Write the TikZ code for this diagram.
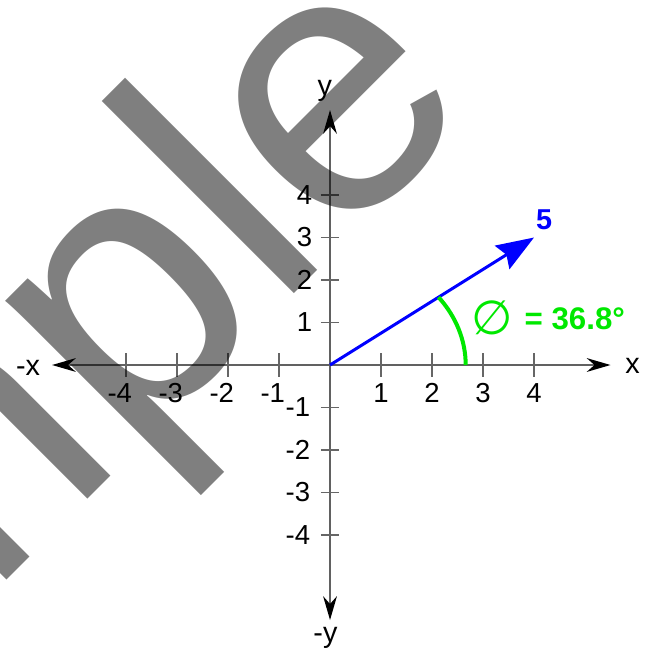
\documentclass[tikz,border=0pt]{standalone}
\usepackage{fontspec}
\setmainfont{Liberation Sans}
\newfontfamily\symbfont{DejaVu Sans}
\usepackage{tikz}
\usetikzlibrary{arrows.meta, positioning}
\definecolor{verde}{RGB}{0,232,0}

\begin{document}
\begin{tikzpicture}[x=20.4pt, y=17pt,
        axisline/.style={draw=black!62, line width=0.8pt, {Stealth[length=9.5pt, width=5.5pt, color=black]}-{Stealth[length=9.5pt, width=5.5pt, color=black]}},
        tickmark/.style={draw=black!60, line width=0.6pt},
        ticklabel/.style={inner sep=0pt, font=\fontsize{11}{13}\selectfont},
        axislabel/.style={inner sep=0pt, font=\fontsize{11.5}{13}\selectfont},
        vec/.style={draw=blue, line width=1.2pt, -{Stealth[length=15pt, width=11pt, inset=2pt]}},
        anglearc/.style={draw=verde, line width=1.6pt},
        anglelabel/.style={inner sep=0pt, text=verde, font=\fontsize{12.5}{14}\bfseries},
        watermark/.style={inner sep=0pt, text=black, text opacity=0.5, font=\fontsize{150}{150}\selectfont}]

        % Marco de la figura
        \useasboundingbox (-6.471,-6.729) rectangle (6.275,8.588);
        \fill[white] (-6.471,-6.729) rectangle (6.275,8.588);
        \clip (-6.471,-6.729) rectangle (6.275,8.588);

        % Ejes
        \coordinate (O) at (0,0);
        \coordinate (xneg) at (-5.45,0);
        \coordinate (xpos) at (5.5,0);
        \coordinate (yneg) at (0,-6);
        \coordinate (ypos) at (0,6);
        \draw[axisline] (xneg) -- (xpos);
        \draw[axisline] (yneg) -- (ypos);

        % Marcas y numeros
        \foreach \i in {1,...,4} {
            \draw[tickmark] (\i,-0.28) -- (\i,0.28);
            \draw[tickmark] (-\i,-0.28) -- (-\i,0.28);
            \draw[tickmark] (-0.18,\i) -- (0.18,\i);
            \draw[tickmark] (-0.18,-\i) -- (0.18,-\i);
            \node[ticklabel, anchor=north] (xl\i) at (\i,-0.42) {\i};
            \node[ticklabel, anchor=north east] (xm\i) at ([xshift=2.6pt]-\i,-0.42) {-\i};
            \node[ticklabel, anchor=east] (yl\i) at (-0.34,\i) {\i};
            \node[ticklabel, anchor=east] (ym\i) at (-0.38,-\i) {-\i};
        }

        % Nombres de los ejes
        \node[axislabel] (xlab) at (5.93,-0.01) {x};
        \node[axislabel] (xneglab) at (-5.92,-0.06) {-x};
        \node[axislabel] (ylab) at (-0.1,6.45) {y};
        \node[axislabel] (yneglab) at (-0.09,-6.41) {-y};

        % Vector y angulo
        \coordinate (P) at (4,3);
        \draw[vec] (O) -- (P);
        \node[inner sep=0pt, text=blue, font=\fontsize{11.5}{13}\bfseries] (mag) at (4.2,3.41) {5};
        \coordinate (A) at (2.66,0);
        \draw[anglearc] (A) arc[start angle=0, end angle=36.87, radius=2.66];
        \node[inner sep=0pt, text=verde, font=\symbfont\fontsize{19}{20}\selectfont] (phi) at (3.176,1.118) {∅};
        \node[anglelabel] (val) at (4.8,1.08) {= 36.8°};

        % Marca de agua
        \node[watermark, anchor=base east, rotate=45] (sample) at (3.0,6.13) {Sample};

    \end{tikzpicture}
\end{document}
